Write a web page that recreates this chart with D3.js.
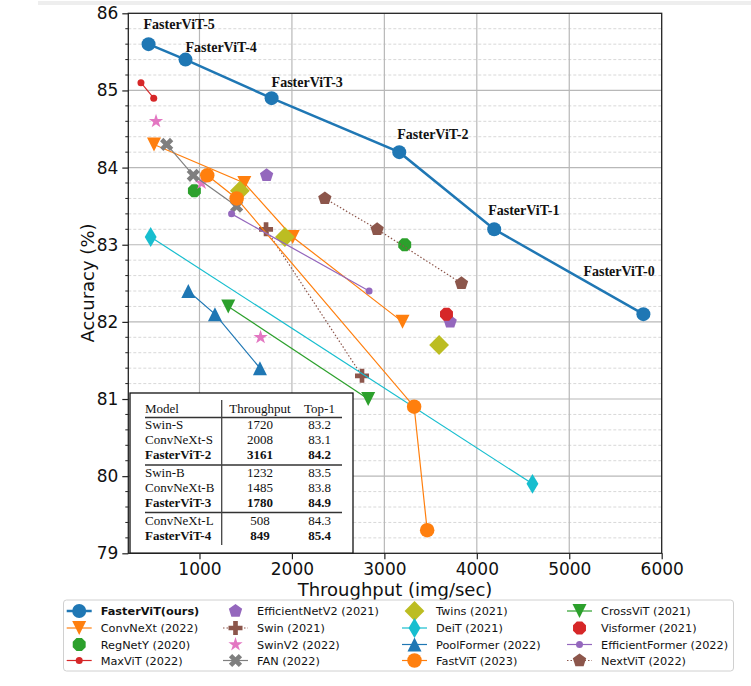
<!DOCTYPE html>
<html>
<head>
<meta charset="utf-8">
<script src="https://cdn.jsdelivr.net/npm/d3@7"></script>
<style>
  body { margin: 0; background: #fff; }
  svg { display: block; font-family: "DejaVu Sans", sans-serif; }
</style>
</head>
<body>
<div id="chart"></div>
<script>
// throughput (img/sec) and top-1 accuracy (%) per model family
const fastervitX = [5802, 4188, 3161, 1780, 849, 449];
const fastervitY = [82.1, 83.2, 84.2, 84.9, 85.4, 85.6];
const fastervitNames = ["FasterViT-0", "FasterViT-1", "FasterViT-2", "FasterViT-3", "FasterViT-4", "FasterViT-5"];
const convnextX = [508, 1485, 2008, 3196];
const convnextY = [84.3, 83.8, 83.1, 82.0];
const regnetyX = [945, 3220];
const regnetyY = [83.7, 83.0];
const maxvitX = [367, 505];
const maxvitY = [85.1, 84.9];
const effnetv2X = [1726, 3712];
const effnetv2Y = [83.9, 82.0];
const swinX = [1720, 2758];
const swinY = [83.2, 81.3];
const swinv2X = [530, 1023, 1661];
const swinv2Y = [84.6, 83.8, 81.8];
const fanX = [645, 933, 1402];
const fanY = [84.3, 83.9, 83.5];
const twinsX = [1437, 1924, 3592];
const twinsY = [83.7, 83.1, 81.7];
const deitX = [472, 4602];
const deitY = [83.1, 79.9];
const poolformerX = [879, 1167, 1654];
const poolformerY = [82.4, 82.1, 81.4];
const fastvitX = [1084, 1402, 3322, 3463];
const fastvitY = [83.9, 83.6, 80.9, 79.3];
const crossvitX = [1311, 2825];
const crossvitY = [82.2, 81.0];
const visformerX = [3672];
const visformerY = [82.1];
const effformerX = [1347, 2835];
const effformerY = [83.4, 82.4];
const nextvitX = [2356, 2922, 3834];
const nextvitY = [83.6, 83.2, 82.5];

const xTicks = [1000, 2000, 3000, 4000, 5000, 6000];
const yTicks = [79, 80, 81, 82, 83, 84, 85, 86];

const tableHeader = ["Model", "Throughput", "Top-1"];
const tableRows = [
  ["Swin-S", "1720", "83.2", false],
  ["ConvNeXt-S", "2008", "83.1", false],
  ["FasterViT-2", "3161", "84.2", true],
  ["Swin-B", "1232", "83.5", false],
  ["ConvNeXt-B", "1485", "83.8", false],
  ["FasterViT-3", "1780", "84.9", true],
  ["ConvNeXt-L", "508", "84.3", false],
  ["FasterViT-4", "849", "85.4", true]
];

// series, in drawing / legend order
const series = [
  { name: "FasterViT(ours)", xs: fastervitX, ys: fastervitY, color: "#1f77b4", marker: "o", size: 14, line: 2.5, bold: true },
  { name: "ConvNeXt (2022)", xs: convnextX, ys: convnextY, color: "#ff7f0e", marker: "v", size: 14, line: 1.2 },
  { name: "RegNetY (2020)", xs: regnetyX, ys: regnetyY, color: "#2ca02c", marker: "8", size: 14, line: 0 },
  { name: "MaxViT (2022)", xs: maxvitX, ys: maxvitY, color: "#d62728", marker: "o", size: 7, line: 1.2 },
  { name: "EfficientNetV2 (2021)", xs: effnetv2X, ys: effnetv2Y, color: "#9467bd", marker: "p", size: 14, line: 0 },
  { name: "Swin (2021)", xs: swinX, ys: swinY, color: "#8c564b", marker: "P", size: 14, line: 1.2, dotted: true },
  { name: "SwinV2 (2022)", xs: swinv2X, ys: swinv2Y, color: "#e377c2", marker: "*", size: 15, line: 0 },
  { name: "FAN (2022)", xs: fanX, ys: fanY, color: "#7f7f7f", marker: "X", size: 14, line: 1.2 },
  { name: "Twins (2021)", xs: twinsX, ys: twinsY, color: "#bcbd22", marker: "D", size: 14, line: 0 },
  { name: "DeiT (2021)", xs: deitX, ys: deitY, color: "#17becf", marker: "d", size: 14, line: 1.2 },
  { name: "PoolFormer (2022)", xs: poolformerX, ys: poolformerY, color: "#1f77b4", marker: "^", size: 14, line: 1.2 },
  { name: "FastViT (2023)", xs: fastvitX, ys: fastvitY, color: "#ff7f0e", marker: "o", size: 14.5, line: 1.2 },
  { name: "CrossViT (2021)", xs: crossvitX, ys: crossvitY, color: "#2ca02c", marker: "v", size: 14, line: 1.2 },
  { name: "Visformer (2021)", xs: visformerX, ys: visformerY, color: "#d62728", marker: "8", size: 14, line: 0 },
  { name: "EfficientFormer (2022)", xs: effformerX, ys: effformerY, color: "#9467bd", marker: "o", size: 7, line: 1.2 },
  { name: "NextViT (2022)", xs: nextvitX, ys: nextvitY, color: "#8c564b", marker: "p", size: 14, line: 1.2, dotted: true }
];

// label offsets (px) for the FasterViT annotations
const labelDx = [-60, -6, -2, 0, 0, -5];
const labelDy = [-38, -14, -13, -11, -8, -15];

const width = 751, height = 686;
const svg = d3.select("#chart").append("svg")
  .attr("width", width)
  .attr("height", height);

// faint strip at the very top of the screenshot
svg.append("rect").attr("x", 38).attr("y", 1).attr("width", 713).attr("height", 4).attr("fill", "#eeeeee");

const x = d3.scaleLinear().domain([230, 6000]).range([128.3, 661.7]);
const y = d3.scaleLinear().domain([79, 86]).range([553.3, 13.3]);

// grid
const minorY = d3.range(79.2, 86, 0.2).filter(v => Math.abs(v - Math.round(v)) > 0.05);
svg.append("g").selectAll("line").data(minorY).join("line")
  .attr("x1", x.range()[0]).attr("x2", x.range()[1])
  .attr("y1", d => y(d)).attr("y2", d => y(d))
  .attr("stroke", "#d8d8d8").attr("stroke-width", 1).attr("stroke-dasharray", "3,2");
svg.append("g").selectAll("line").data(yTicks.slice(1, -1)).join("line")
  .attr("x1", x.range()[0]).attr("x2", x.range()[1])
  .attr("y1", d => y(d)).attr("y2", d => y(d))
  .attr("stroke", "#b8b8b8").attr("stroke-width", 1.2);
svg.append("g").selectAll("line").data(xTicks.slice(0, -1)).join("line")
  .attr("x1", d => x(d)).attr("x2", d => x(d))
  .attr("y1", y.range()[0]).attr("y2", y.range()[1])
  .attr("stroke", "#b8b8b8").attr("stroke-width", 1.2);

// marker shapes
function poly(pts) { return "M" + pts.map(p => p[0].toFixed(2) + "," + p[1].toFixed(2)).join("L") + "Z"; }
function regular(n, r, rot) {
  return poly(d3.range(n).map(k => {
    const a = -Math.PI / 2 + rot + 2 * Math.PI * k / n;
    return [r * Math.cos(a), r * Math.sin(a)];
  }));
}
function plusPts(s, ang) {
  const a = s / 2, b = s / 6;
  const pts = [[-b, -a], [b, -a], [b, -b], [a, -b], [a, b], [b, b], [b, a], [-b, a], [-b, b], [-a, b], [-a, -b], [-b, -b]];
  const c = Math.cos(ang), sn = Math.sin(ang);
  return pts.map(p => [p[0] * c - p[1] * sn, p[0] * sn + p[1] * c]);
}
function markerPath(m, s) {
  const h = s / 2;
  if (m === "o") return d3.symbol(d3.symbolCircle, Math.PI * h * h)();
  if (m === "v") return poly([[0, h], [-h, -h], [h, -h]]);
  if (m === "^") return poly([[0, -h], [-h, h], [h, h]]);
  if (m === "8") return regular(8, h, Math.PI / 8);
  if (m === "p") return regular(5, h, 0);
  if (m === "*") {
    return poly(d3.range(10).map(k => {
      const r = k % 2 ? h * 0.382 : h;
      const a = -Math.PI / 2 + Math.PI * k / 5;
      return [r * Math.cos(a), r * Math.sin(a)];
    }));
  }
  if (m === "P") return poly(plusPts(s, 0));
  if (m === "X") return poly(plusPts(s, Math.PI / 4));
  if (m === "D") { const t = s * Math.SQRT1_2; return poly([[0, -t], [t, 0], [0, t], [-t, 0]]); }
  if (m === "d") { const t = s * Math.SQRT1_2; return poly([[0, -t], [t * 0.6, 0], [0, t], [-t * 0.6, 0]]); }
  return "";
}

// series
const plot = svg.append("g");
series.forEach(s => {
  const pts = s.xs.map((v, i) => [x(v), y(s.ys[i])]);
  if (s.line > 0) {
    plot.append("path")
      .attr("d", d3.line()(pts))
      .attr("fill", "none")
      .attr("stroke", s.color)
      .attr("stroke-width", s.line)
      .attr("stroke-dasharray", s.dotted ? "1.5,2" : null);
  }
  plot.append("g").selectAll("path").data(pts).join("path")
    .attr("transform", d => `translate(${d[0]},${d[1]})`)
    .attr("d", markerPath(s.marker, s.size))
    .attr("fill", s.color);
});

// FasterViT labels
svg.append("g").selectAll("text").data(fastervitNames).join("text")
  .attr("x", (d, i) => x(fastervitX[i]) + labelDx[i])
  .attr("y", (d, i) => y(fastervitY[i]) + labelDy[i])
  .attr("font-family", "Liberation Serif, serif")
  .attr("font-weight", "bold")
  .attr("font-size", 14)
  .attr("fill", "#111")
  .text(d => d);

// table inset
const tb = svg.append("g");
tb.append("rect").attr("x", 130).attr("y", 393).attr("width", 223).attr("height", 160.3)
  .attr("fill", "#fff").attr("stroke", "#111").attr("stroke-width", 1.3);
const colX = [145, 260, 319.5];
const rowBase = [428.5, 443.5, 458.5, 476.5, 491.5, 506.5, 525, 540];
tb.selectAll("text.h").data(tableHeader).join("text").attr("class", "h")
  .attr("x", (d, i) => colX[i]).attr("y", 412.5)
  .attr("text-anchor", (d, i) => i === 0 ? "start" : "middle")
  .attr("font-family", "Liberation Serif, serif").attr("font-size", 13).attr("fill", "#111")
  .text(d => d);
tableRows.forEach((r, ri) => {
  r.slice(0, 3).forEach((c, ci) => {
    tb.append("text")
      .attr("x", colX[ci]).attr("y", rowBase[ri])
      .attr("text-anchor", ci === 0 ? "start" : "middle")
      .attr("font-family", "Liberation Serif, serif").attr("font-size", 13)
      .attr("font-weight", r[3] ? "bold" : "normal").attr("fill", "#111")
      .text(c);
  });
});
[417.5, 465, 512.5].forEach(v => {
  tb.append("line").attr("x1", 145).attr("x2", 342).attr("y1", v).attr("y2", v)
    .attr("stroke", "#333").attr("stroke-width", 1.5);
});
tb.append("line").attr("x1", 221.7).attr("x2", 221.7).attr("y1", 400).attr("y2", 545)
  .attr("stroke", "#444").attr("stroke-width", 1.3);

// axes frame and ticks
svg.append("rect").attr("x", 128.3).attr("y", 13.3).attr("width", 533.4).attr("height", 540)
  .attr("fill", "none").attr("stroke", "#222").attr("stroke-width", 1.3);
const xAxis = svg.append("g").attr("transform", `translate(0,${y.range()[0]})`)
  .call(d3.axisBottom(x).tickValues(xTicks).tickSize(6).tickPadding(4).tickFormat(d3.format("d")));
const yAxis = svg.append("g").attr("transform", `translate(${x.range()[0]},0)`)
  .call(d3.axisLeft(y).tickValues(yTicks).tickSize(6).tickPadding(4).tickFormat(d3.format("d")));
[xAxis, yAxis].forEach(a => {
  a.select(".domain").remove();
  a.selectAll("line").attr("stroke", "#222").attr("stroke-width", 1.2);
  a.selectAll("text").attr("font-size", 17).attr("fill", "#111").attr("font-family", "DejaVu Sans, sans-serif");
});
svg.append("g").selectAll("line").data(minorY).join("line")
  .attr("x1", x.range()[0] - 3).attr("x2", x.range()[0])
  .attr("y1", d => y(d)).attr("y2", d => y(d))
  .attr("stroke", "#222").attr("stroke-width", 1);

svg.append("text").attr("x", 395).attr("y", 596).attr("text-anchor", "middle")
  .attr("font-size", 18).attr("fill", "#111").text("Throughput (img/sec)");
svg.append("text").attr("transform", "translate(94,283) rotate(-90)").attr("text-anchor", "middle")
  .attr("font-size", 18).attr("fill", "#111").text("Accuracy (%)");

// legend
const lg = svg.append("g");
lg.append("rect").attr("x", 63.5).attr("y", 600).attr("width", 670).attr("height", 71).attr("rx", 3)
  .attr("fill", "#fff").attr("stroke", "#d0d0d0").attr("stroke-width", 1);
const legHandleX = [66.7, 223, 402, 567];
const legRowY = [611, 628, 644.5, 660.5];
series.forEach((s, i) => {
  const col = Math.floor(i / 4), row = i % 4;
  const hx = legHandleX[col], cy = legRowY[row];
  const g = lg.append("g");
  if (s.line > 0) {
    g.append("line").attr("x1", hx).attr("x2", hx + 25).attr("y1", cy).attr("y2", cy)
      .attr("stroke", s.color).attr("stroke-width", s.line)
      .attr("stroke-dasharray", s.dotted ? "1.5,2" : null);
  }
  g.append("path").attr("transform", `translate(${hx + 12.5},${cy})`)
    .attr("d", markerPath(s.marker, s.size)).attr("fill", s.color);
  g.append("text").attr("x", hx + 34).attr("y", cy + 4)
    .attr("font-size", 11.3).attr("fill", "#111")
    .attr("font-weight", s.bold ? "bold" : "normal")
    .text(s.name);
});
</script>
</body>
</html>
